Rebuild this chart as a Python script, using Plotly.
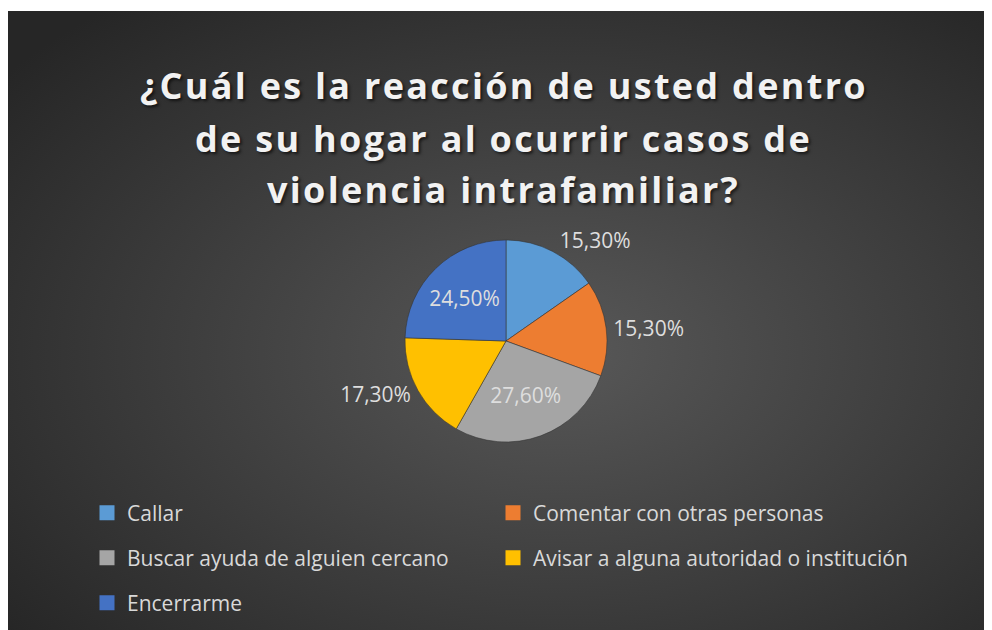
import base64

import plotly.graph_objects as go

categories = [
    'Callar',
    'Comentar con otras personas',
    'Buscar ayuda de alguien cercano',
    'Avisar a alguna autoridad o institución',
    'Encerrarme',
]
percentages = [15.3, 15.3, 27.6, 17.3, 24.5]
colors = ['#5B9BD5', '#ED7D31', '#A5A5A5', '#FFC000', '#4472C4']
label_positions = ['outside', 'outside', 'inside', 'outside', 'inside']
title_lines = [
    '¿Cuál es la reacción de usted dentro',
    'de su hogar al ocurrir casos de',
    'violencia intrafamiliar?',
]

# excel style labels: 15,30%
labels = ['{:.2f}%'.format(v).replace('.', ',') for v in percentages]

# page body has an 8px margin, so the figure is drawn at (8, 8) in the window
OFF = 8
W, H = 992 - OFF, 630 - OFF


def px_x(sx):
    return (sx - OFF) / W


def px_y(sy):
    return 1 - (sy - OFF) / H


# dark radial gradient panel (svg as a layout image)
svg = (
    '<svg xmlns="http://www.w3.org/2000/svg" width="984" height="619" '
    'viewBox="0 0 984 619" preserveAspectRatio="none"><defs>'
    '<radialGradient id="g" cx="0.56" cy="0.55" r="0.72">'
    '<stop offset="0" stop-color="#585858"/><stop offset="1" stop-color="#262626"/>'
    '</radialGradient></defs><rect width="984" height="619" fill="url(#g)"/></svg>'
)
bg_src = 'data:image/svg+xml;base64,' + base64.b64encode(svg.encode()).decode()

fig = go.Figure()

cx, cy, r = 506, 341, 101
fig.add_trace(go.Pie(
    labels=categories,
    values=percentages,
    text=labels,
    textinfo='text',
    textposition=label_positions,
    sort=False,
    direction='clockwise',
    rotation=0,
    marker={'colors': colors, 'line': {'color': 'rgba(50,50,50,0.7)', 'width': 0.8}},
    textfont={'family': 'Open Sans', 'size': 21, 'color': '#dedede'},
    domain={'x': [px_x(cx - r), px_x(cx + r)], 'y': [px_y(cy + r), px_y(cy - r)]},
    showlegend=False,
    hoverinfo='label+percent',
))

# legend: two columns, three rows; one small legend per entry so each sits
# where Excel put it
col_x = [79, 485]
row_y = [513, 558, 603]
legend_layout = {}
for i, name in enumerate(categories):
    lname = 'legend' if i == 0 else 'legend{}'.format(i + 1)
    fig.add_trace(go.Scatter(
        x=[None], y=[None],
        mode='markers',
        name=name,
        marker={'symbol': 'square', 'size': 15, 'color': colors[i]},
        legend=lname,
        showlegend=True,
    ))
    legend_layout[lname] = dict(
        orientation='h',
        xanchor='left',
        x=col_x[i % 2] / W,
        yanchor='middle',
        y=px_y(row_y[i // 2]),
        bgcolor='rgba(0,0,0,0)',
        font={'family': 'Open Sans', 'size': 21, 'color': '#d9d9d9'},
    )

# title, one annotation per line (Excel uses wider line spacing and letter spacing)
title_y = [86, 138, 189]
annotations = []
for line, sy in zip(title_lines, title_y):
    annotations.append(dict(
        text='<span style="letter-spacing:2.3px">{}</span>'.format(line),
        xref='paper', yref='paper',
        x=px_x(504), y=px_y(sy),
        xanchor='center', yanchor='middle',
        showarrow=False,
        font={
            'family': 'Open Sans',
            'size': 36,
            'weight': 'bold',
            'color': '#f2f2f2',
            'shadow': '2px 2px 3px rgba(0,0,0,0.6)',
        },
    ))

fig.update_layout(
    width=W,
    height=H,
    margin={'l': 0, 'r': 0, 't': 0, 'b': 0},
    paper_bgcolor='white',
    plot_bgcolor='rgba(0,0,0,0)',
    xaxis={'visible': False},
    yaxis={'visible': False},
    images=[{
        'source': bg_src,
        'xref': 'paper', 'yref': 'paper',
        'x': 0, 'y': px_y(11),
        'sizex': 1, 'sizey': 1,
        'xanchor': 'left', 'yanchor': 'top',
        'sizing': 'stretch',
        'layer': 'below',
    }],
    annotations=annotations,
    **legend_layout,
)

fig.write_html('out.html')
